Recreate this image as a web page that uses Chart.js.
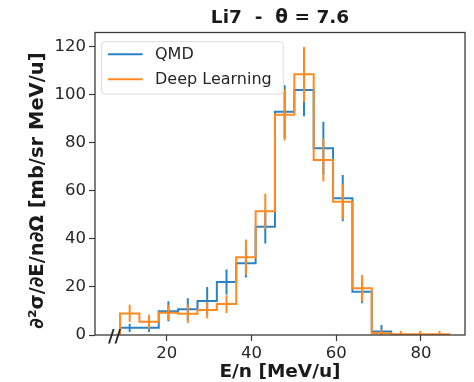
<!DOCTYPE html>
<html><head><meta charset="utf-8">
<script src="https://cdn.jsdelivr.net/npm/chart.js@4/dist/chart.umd.min.js"></script>
<style>html,body{margin:0;padding:0;background:#fff}#wrap{width:474px;height:382px;position:relative}</style>
</head><body><div id="wrap"><canvas id="c" width="474" height="382"></canvas></div>
<script>
const chartTitle = 'Li7  -  θ = 7.6';
const xTitle = 'E/n [MeV/u]';
const yTitle = '∂²σ/∂E/n∂Ω [mb/sr MeV/u]  ';
const seriesNames = ['QMD', 'Deep Learning'];
const binEdges = [9.0, 13.57, 18.14, 22.71, 27.28, 31.85, 36.42, 41.0, 45.56, 50.13, 54.7, 59.27, 63.84, 68.4, 72.98, 77.55, 82.1, 86.7];
const qmdValues = [3.0, 3.0, 9.9, 10.7, 14.2, 22.1, 29.9, 45.1, 93.0, 102.1, 77.8, 57.0, 18.0, 1.5];
const qmdErrors = [1.7, 1.7, 4.2, 4.6, 5.8, 5.2, 6.0, 7.0, 11.0, 11.0, 11.0, 9.6, 4.8, 2.7];
const dlValues = [9.0, 5.5, 9.3, 8.8, 10.4, 12.9, 32.4, 51.5, 91.7, 108.6, 72.9, 55.5, 19.5, 0.7, 0.3, 0.3, 0.3];
const dlErrors = [3.6, 2.9, 3.1, 3.8, 3.5, 3.7, 7.4, 7.3, 10.7, 11.4, 9.0, 7.3, 5.5, 1.5, 1.4, 1.4, 1.4];
const xTicks = [20, 40, 60, 80];
const yTicks = [0, 20, 40, 60, 80, 100, 120];

const BLUE = '#2a84c4';
const ORANGE = '#ff8a22';
const FONT = 'DejaVu Sans';

function stepPoints(edges, vals) {
  const pts = [{x: edges[0], y: 0}];
  for (let i = 0; i < vals.length; i++) pts.push({x: edges[i + 1], y: vals[i]});
  pts.push({x: edges[vals.length], y: 0});
  return pts;
}
function errPoints(edges, vals, errs) {
  const pts = [];
  for (let i = 0; i < vals.length; i++) {
    const c = (edges[i] + edges[i + 1]) / 2;
    pts.push({x: c, y: vals[i] - errs[i]}, {x: c, y: vals[i] + errs[i]}, {x: c, y: null});
  }
  return pts;
}

const frameAndLegend = {
  id: 'frameAndLegend',
  afterDatasetsDraw(chart) {
    const {ctx, chartArea: a} = chart;
    ctx.save();
    // frame
    ctx.strokeStyle = '#3a3a3a';
    ctx.lineWidth = 1.3;
    ctx.strokeRect(a.left, a.top, a.right - a.left, a.bottom - a.top);
    // axis break marks
    ctx.fillStyle = '#2a2a2a';
    ctx.font = 'bold 18px "' + FONT + '"';
    ctx.textAlign = 'center';
    ctx.textBaseline = 'middle';
    ctx.fillText('//', a.left + 19.5, a.bottom + 2);
    // legend
    const lx = a.left + 6.7, ly = a.top + 9.2, lw = 181.6, lh = 52.3, r = 3;
    ctx.beginPath();
    ctx.moveTo(lx + r, ly);
    ctx.arcTo(lx + lw, ly, lx + lw, ly + lh, r);
    ctx.arcTo(lx + lw, ly + lh, lx, ly + lh, r);
    ctx.arcTo(lx, ly + lh, lx, ly, r);
    ctx.arcTo(lx, ly, lx + lw, ly, r);
    ctx.closePath();
    ctx.fillStyle = 'rgba(255,255,255,0.85)';
    ctx.fill();
    ctx.strokeStyle = '#dcdcdc';
    ctx.lineWidth = 1;
    ctx.stroke();
    const items = chart.data.datasets.filter(d => d.isHist).sort((p, q) => p.seriesIndex - q.seriesIndex);
    ctx.font = '16px "' + FONT + '"';
    ctx.textAlign = 'left';
    items.forEach((d, i) => {
      const yy = ly + 12.6 + i * 25;
      ctx.strokeStyle = d.borderColor;
      ctx.lineWidth = 2;
      ctx.beginPath();
      ctx.moveTo(lx + 6.3, yy);
      ctx.lineTo(lx + 41, yy);
      ctx.stroke();
      ctx.fillStyle = '#262626';
      ctx.fillText(d.label, lx + 53.3, yy + 0.5);
    });
    ctx.restore();
  }
};

new Chart(document.getElementById('c'), {
  type: 'line',
  data: {
    datasets: [
      {label: seriesNames[0], isHist: true, seriesIndex: 0, data: stepPoints(binEdges, qmdValues), stepped: 'after', borderColor: BLUE, borderWidth: 2, pointRadius: 0, fill: false, order: 3},
      {label: seriesNames[0] + ' err', data: errPoints(binEdges, qmdValues, qmdErrors), borderColor: BLUE, borderWidth: 2, pointRadius: 0, fill: false, spanGaps: false, order: 2},
      {label: seriesNames[1], isHist: true, seriesIndex: 1, data: stepPoints(binEdges, dlValues), stepped: 'after', borderColor: ORANGE, borderWidth: 2, pointRadius: 0, fill: false, order: 1},
      {label: seriesNames[1] + ' err', data: errPoints(binEdges, dlValues, dlErrors), borderColor: ORANGE, borderWidth: 2, pointRadius: 0, fill: false, spanGaps: false, order: 0}
    ]
  },
  options: {
    responsive: false,
    animation: false,
    devicePixelRatio: 1,
    layout: {padding: {left: 0, right: 9, top: 0, bottom: 0}},
    plugins: {
      legend: {display: false},
      tooltip: {enabled: false},
      title: {
        display: true, text: chartTitle, fullSize: false,
        font: {family: FONT, size: 18.5, weight: 'bold', lineHeight: 1.2},
        color: '#1a1a1a',
        padding: {top: 7.4, bottom: 2.9}
      }
    },
    scales: {
      x: {
        type: 'linear', min: 3.1, max: 90.4,
        afterBuildTicks: s => { s.ticks = xTicks.map(v => ({value: v})); },
        afterFit: s => { s.height = 47; },
        ticks: {font: {family: FONT, size: 16.5}, color: '#262626', padding: 3, maxRotation: 0},
        grid: {display: true, drawOnChartArea: false, drawTicks: true, tickLength: 6, color: '#3a3a3a', tickWidth: 1.2},
        border: {display: false},
        title: {display: true, text: xTitle, font: {family: FONT, size: 18.5, weight: 'bold', lineHeight: 1.0}, color: '#1a1a1a', padding: {top: 0, bottom: 1}}
      },
      y: {
        type: 'linear', min: 0, max: 126,
        afterBuildTicks: s => { s.ticks = yTicks.map(v => ({value: v})); },
        afterFit: s => { s.width = 95; },
        ticks: {font: {family: FONT, size: 16.5}, color: '#262626', padding: 3},
        grid: {display: true, drawOnChartArea: false, drawTicks: true, tickLength: 6, color: '#3a3a3a', tickWidth: 1.2},
        border: {display: false},
        title: {display: true, text: yTitle, font: {family: FONT, size: 19.5, weight: 'bold', lineHeight: 1.0}, color: '#1a1a1a', padding: {top: 28, bottom: 0}}
      }
    }
  },
  plugins: [frameAndLegend]
});
</script></body></html>
